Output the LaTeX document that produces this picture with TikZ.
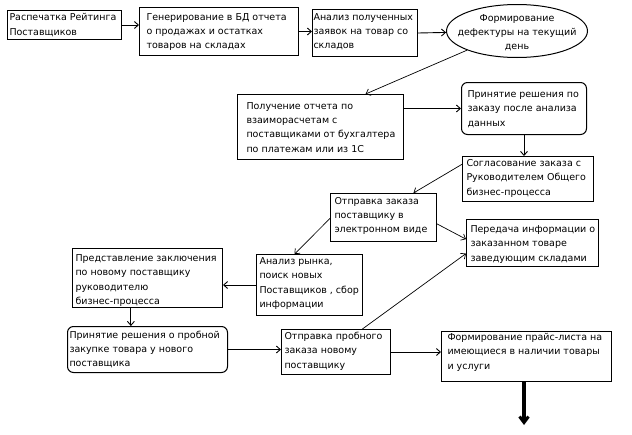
\documentclass[tikz,border=0pt]{standalone}
\usepackage{fontspec}
\setmainfont{DejaVu Sans}
\usetikzlibrary{arrows.meta,shapes.geometric,calc}
\newcommand\bt[5]{\makebox[#1][l]{\parbox[t][#2][t]{\dimexpr#1+60pt\relax}{\fontsize{9.5}{14.3}\selectfont\raggedright\leftskip=#3\relax\vspace*{\dimexpr#4-3pt\relax}\rule{0pt}{10pt}#5}}}
\tikzset{
  bx/.style={draw, line width=1pt, inner sep=0pt, anchor=north west},
  rbx/.style={bx, rounded corners=6pt},
  arr/.style={line width=0.9pt, -{Straight Barb[length=4pt,width=7pt]}},
  thinarr/.style={line width=0.7pt, -{Straight Barb[length=4pt,width=7pt]}},
  bigarr/.style={line width=3.5pt, -{Straight Barb[length=6pt,width=9pt,line width=3pt]}}
}
\begin{document}
\begin{tikzpicture}[x=1pt,y=-1pt]
\useasboundingbox (0,0) rectangle (632,434);
\node[bx] (b1) at (7,10) {\bt{114pt}{29pt}{2pt}{3.3pt}{Распечатка Рейтинга\\Поставщиков}};
\node[bx] (b2) at (139,7) {\bt{159pt}{48pt}{7pt}{5.7pt}{Генерирование в БД отчета\\о продажах и остатках\\товаров на складах}};
\node[bx] (b3) at (312,9) {\bt{105pt}{47pt}{1pt}{3.7pt}{Анализ полученных\\заявок на товар со\\складов}};
\node[draw, ellipse, line width=1pt, minimum width=141pt, minimum height=53pt, inner sep=0pt] (el) at (517,31)
  {\makebox[0pt]{\smash{\raisebox{-4pt}{\fontsize{9.5}{14.3}\selectfont\begin{tabular}{@{}c@{}}Формирование\\дефектуры на текущий\\день\end{tabular}}}}};
\node[bx] (b4) at (237,94) {\bt{166pt}{65pt}{9pt}{7.7pt}{Получение отчета по\\взаиморасчетам с\\поставщиками от бухгалтера\\по платежам или из 1С}};
\node[rbx] (b5) at (461,82) {\bt{125pt}{52pt}{6pt}{8pt}{Принятие решения по\\заказу после анализа\\данных}};
\node[bx] (b6) at (462,156) {\bt{131pt}{45pt}{4pt}{3pt}{Согласование заказа с\\Руководителем Общего\\бизнес-процесса}};
\node[bx] (b7) at (330,193) {\bt{106pt}{48pt}{4pt}{3.7pt}{Отправка заказа\\поставщику в\\электронном виде}};
\node[bx] (b8) at (466,219) {\bt{132pt}{47pt}{4pt}{6pt}{Передача информации о\\заказанном товаре\\заведующим складами}};
\node[bx] (b9) at (256,254) {\bt{106pt}{61pt}{3pt}{3pt}{Анализ рынка,\\поиск новых\\Поставщиков , сбор\\информации}};
\node[bx] (b10) at (72,248) {\bt{150pt}{59pt}{3pt}{6pt}{Представление заключения\\по новому поставщику\\руководителю\\бизнес-процесса}};
\node[rbx] (b11) at (67,326) {\bt{160pt}{46pt}{2pt}{4.7pt}{Принятие решения о пробной\\закупке товара у нового\\поставщика}};
\node[bx] (b12) at (281,329) {\bt{109pt}{45pt}{3pt}{3pt}{Отправка пробного\\заказа новому\\поставщику}};
\node[bx] (b13) at (441,331) {\bt{170pt}{50pt}{6pt}{2pt}{Формирование прайс-листа на\\имеющиеся в наличии товары\\и услуги}};
\coordinate (end) at (524,425);
\coordinate (p10) at ($(b10.south west)!0.39!(b10.south east)$);
% connectors
\draw[arr] (b1.east) -- (b1.east -| b2.west);
\draw[arr] (b2.east) -- (b2.east -| b3.west);
\draw[arr] (b3.east) -- (el);
\draw[thinarr] (el.201) -- ($(b4.north west)!0.77!(b4.north east)$);
\draw[arr] (b5.west -| b4.east) -- (b5.west);
\draw[arr] (b5.south) -- (b5.south |- b6.north);
\draw[thinarr] ($(b6.north west)!0.18!(b6.south west)$) -- ($(b7.north west)!0.78!(b7.north east)$);
\draw[thinarr] ($(b7.north east)!0.63!(b7.south east)$) -- ($(b8.north west)!0.42!(b8.south west)$);
\draw[thinarr] ($(b7.north west)!0.52!(b7.south west)$) -- ($(b9.north west)!0.36!(b9.north east)$);
\draw[arr] (b9.west) -- (b9.west -| b10.east);
\draw[arr] (p10) -- (p10 |- b11.north);
\draw[arr] (b11.east) -- (b11.east -| b12.west);
\draw[thinarr] ($(b12.north west)!0.74!(b12.north east)$) -- ($(b8.north west)!0.72!(b8.south west)$);
\draw[arr] (b12.east) -- (b12.east -| b13.west);
\draw[bigarr] (b13.south -| end) -- (end);
\end{tikzpicture}
\end{document}
